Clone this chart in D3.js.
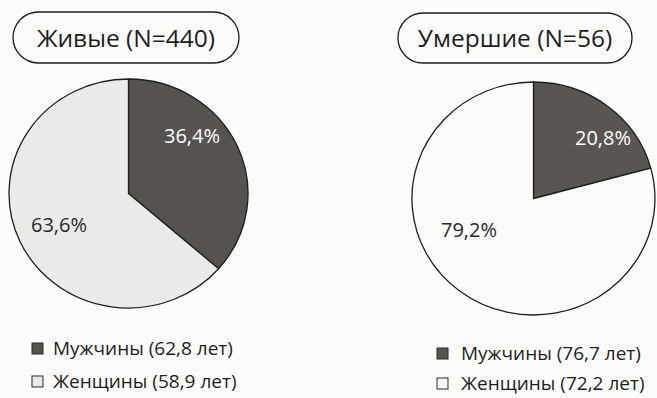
<!DOCTYPE html>
<html>
<head>
<meta charset="utf-8">
<script src="https://cdn.jsdelivr.net/npm/d3@7/dist/d3.min.js"></script>
<style>
  html, body { margin: 0; padding: 0; background: #fcfcfb; }
  svg { display: block; font-family: "Open Sans", "Noto Sans", sans-serif; }
</style>
</head>
<body>
<svg id="chart" width="657" height="398"></svg>
<script>
// Group titles
const groupTitles = ["Живые (N=440)", "Умершие (N=56)"];
// Sex categories, in drawing order (clockwise from 12 o'clock)
const sexes = ["Мужчины", "Женщины"];
// Share of each sex per group, percent
const aliveShares = [36.4, 63.6];
const deadShares = [20.8, 79.2];
// Mean age per sex and group, years
const aliveAges = [62.8, 58.9];
const deadAges = [76.7, 72.2];

const svg = d3.select("#chart");
const fmt = v => d3.format(".1f")(v).replace(".", ",");

const panels = [
  { title: groupTitles[0], shares: aliveShares, ages: aliveAges,
    box: [13, 12, 226, 51], cx: 128.5, cy: 193.5, rx: 119.5, ry: 114.5,
    colors: ["#565250", "#eaeae8"], textColors: ["#ffffff", "#2a2a2a"],
    labelPos: [[192, 143], [59, 232]],
    legend: { x: 32, y: [343, 376], tx: 53 } },
  { title: groupTitles[1], shares: deadShares, ages: deadAges,
    box: [398, 13, 234, 50], cx: 533.5, cy: 198.5, rx: 121.5, ry: 116.5,
    colors: ["#595551", "#fbfbfa"], textColors: ["#ffffff", "#2a2a2a"],
    labelPos: [[603, 145], [469, 237]],
    legend: { x: 437, y: [348, 378], tx: 461 } }
];

const pie = d3.pie().sort(null).value(d => d);

panels.forEach(p => {
  const g = svg.append("g");

  // Rounded title box
  const [bx, by, bw, bh] = p.box;
  g.append("rect")
    .attr("x", bx).attr("y", by).attr("width", bw).attr("height", bh)
    .attr("rx", bh / 2).attr("ry", bh / 2)
    .attr("fill", "none").attr("stroke", "#1e1e1e").attr("stroke-width", 1.3);
  g.append("text")
    .attr("x", bx + bw / 2).attr("y", by + bh / 2 + 9)
    .attr("text-anchor", "middle")
    .attr("font-size", 24.5).attr("fill", "#1e1e1e")
    .text(p.title);

  // Pie: unit-radius arcs stretched to the slightly oval outline
  const arc = d3.arc().innerRadius(0).outerRadius(1);
  const pg = g.append("g")
    .attr("transform", `translate(${p.cx},${p.cy}) scale(${p.rx},${p.ry})`);
  const arcs = pie(p.shares);
  pg.selectAll("path").data(arcs).join("path")
    .attr("d", arc)
    .attr("fill", (d, i) => p.colors[i])
    .attr("stroke", "#1e1e1e").attr("stroke-width", 1.3)
    .attr("vector-effect", "non-scaling-stroke")
    .attr("stroke-linejoin", "round");

  // Percent labels
  arcs.forEach((d, i) => {
    g.append("text")
      .attr("x", p.labelPos[i][0]).attr("y", p.labelPos[i][1])
      .attr("text-anchor", "middle")
      .attr("font-size", 20).attr("fill", p.textColors[i])
      .text(fmt(d.data) + "%");
  });

  // Legend
  sexes.forEach((s, i) => {
    const y = p.legend.y[i];
    g.append("rect")
      .attr("x", p.legend.x).attr("y", y).attr("width", 11).attr("height", 11)
      .attr("fill", p.colors[i]).attr("stroke", "#2a2a2a").attr("stroke-width", 1);
    g.append("text")
      .attr("x", p.legend.tx).attr("y", y + 11.5)
      .attr("font-size", 19).attr("fill", "#1e1e1e")
      .text(`${s} (${fmt(p.ages[i])} лет)`);
  });
});
</script>
</body>
</html>
